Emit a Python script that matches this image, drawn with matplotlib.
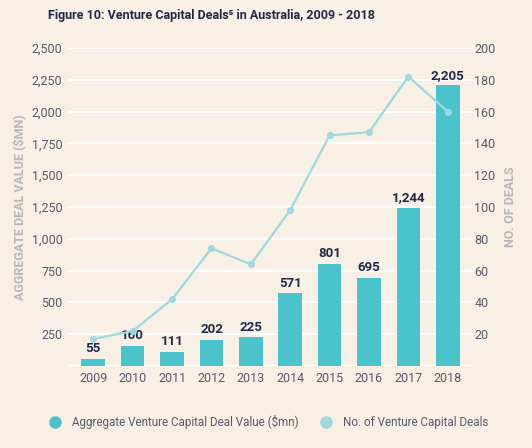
import matplotlib.pyplot as plt
from matplotlib.lines import Line2D

plt.rcParams['font.family'] = ['Roboto', 'DejaVu Sans']

years = ["2009", "2010", "2011", "2012", "2013", "2014", "2015", "2016", "2017", "2018"]
deal_value = [55, 160, 111, 202, 225, 571, 801, 695, 1244, 2205]
deal_count = [17, 22, 42, 74, 64, 98, 145, 147, 182, 160]

bg = "#f8efe5"
bar_col = "#4bc3cc"
line_col = "#9dd9df"
navy = "#1f2a4a"
tick_col = "#555a6e"
label_col = "#b8b8b8"

fig = plt.figure(figsize=(5.32, 4.48), dpi=100, facecolor=bg)
ax = fig.add_axes([0.128, 0.183, 0.761, 0.710])
ax.set_facecolor(bg)
ax2 = ax.twinx()

x = range(len(years))
ax.bar(x, deal_value, width=0.6, color=bar_col, zorder=2)
for i, v in enumerate(deal_value):
    ax.text(i, v + 30, f"{v:,}", ha="center", va="bottom", fontsize=9.5,
            fontweight="bold", color=navy, zorder=4)

ax.set_ylim(0, 2500)
ax.set_yticks(range(0, 2501, 250))
ax.set_yticklabels([""] + [f"{t:,}" for t in range(250, 2501, 250)])
ax.set_xlim(-0.64, 9.64)
ax.set_xticks(list(x))
ax.set_xticklabels(years)
ax.grid(axis="y", color="white", linewidth=1.5, zorder=0)
ax.set_axisbelow(True)

ax2.plot(x, deal_count, color=line_col, linewidth=1.6, marker="o", markersize=4, zorder=3)
ax2.set_ylim(0, 200)
ax2.set_yticks(range(0, 201, 20))
ax2.set_yticklabels([""] + [str(t) for t in range(20, 201, 20)])
ax.set_zorder(1)
ax.patch.set_visible(True)
ax2.set_zorder(2)
ax2.patch.set_visible(False)

for a in (ax, ax2):
    for s in a.spines.values():
        s.set_visible(False)
    a.tick_params(length=0, colors=tick_col, labelsize=9, pad=4)
ax2.tick_params(pad=1)

ax.set_ylabel("AGGREGATE DEAL VALUE ($MN)", color=label_col, fontsize=9,
              fontweight="bold", labelpad=4)
ax2.set_ylabel("NO. OF DEALS", color=label_col, fontsize=9,
               fontweight="bold", labelpad=6)

fig.text(0.09, 0.965, "Figure 10: Venture Capital Deals\u2075 in Australia, 2009 - 2018",
         fontsize=9, fontweight="bold", color=navy, va="center")

handles = [
    Line2D([], [], linestyle="none", marker="o", markersize=8, color=bar_col),
    Line2D([], [], linestyle="none", marker="o", markersize=8, color=line_col),
]
fig.legend(handles, ["Aggregate Venture Capital Deal Value ($mn)", "No. of Venture Capital Deals"],
           loc="center", bbox_to_anchor=(0.5, 0.058), ncol=2, frameon=False,
           fontsize=8.4, labelcolor=tick_col, handletextpad=0.4, columnspacing=1.4)

fig.savefig("out.png", dpi=100, facecolor=bg)
